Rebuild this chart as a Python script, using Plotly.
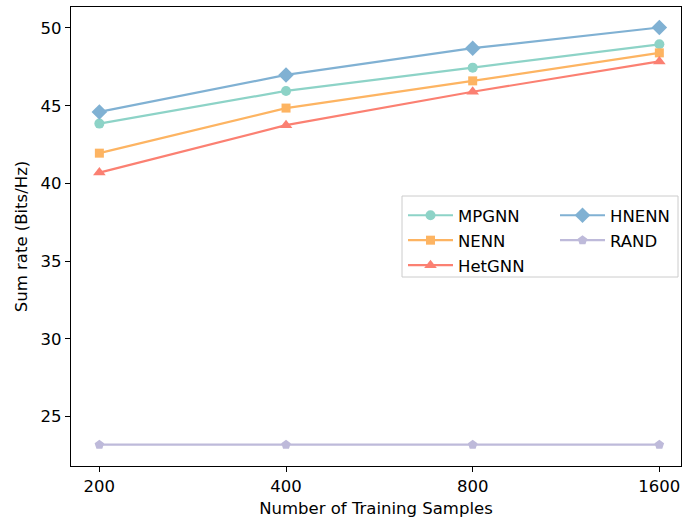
import plotly.graph_objects as go

samples = ["200", "400", "800", "1600"]
mpgnn = [43.85, 45.95, 47.45, 48.95]
nenn = [41.95, 44.85, 46.6, 48.4]
hetgnn = [40.7, 43.75, 45.9, 47.85]
hnenn = [44.6, 46.98, 48.7, 50.03]
rand = [23.2, 23.2, 23.2, 23.2]

series = [
    ("MPGNN", mpgnn, "#8dd3c7", "circle", 10, 1, "legend"),
    ("NENN", nenn, "#fdb462", "square", 9, 2, "legend"),
    ("HetGNN", hetgnn, "#fb8072", "triangle-up", 11, 3, "legend"),
    ("HNENN", hnenn, "#80b1d3", "diamond", 12, 4, "legend2"),
    ("RAND", rand, "#bebada", "pentagon", 10, 5, "legend2"),
]

fig = go.Figure()
for name, vals, color, sym, size, rank, leg in series:
    fig.add_trace(go.Scatter(
        x=samples, y=vals, name=name, mode="lines+markers",
        line=dict(color=color, width=2.2),
        marker=dict(symbol=sym, size=size, color=color, line=dict(width=0)),
        legendrank=rank, legend=leg, legendgroup=name,
    ))

W, H = 683, 519
ml, mr, mt, mb = 71, 2, 7, 53
pw, ph = W - ml - mr, H - mt - mb

def px_x(p):
    return (p - ml) / pw

def px_y(p):
    return 1 - (p - mt) / ph

font = dict(family="DejaVu Sans", size=16.5, color="black")
legend_common = dict(
    font=font, bgcolor="rgba(0,0,0,0)", borderwidth=0,
    itemwidth=45, traceorder="grouped", tracegroupgap=0.5,
    xanchor="left", yanchor="top",
)

fig.update_layout(
    width=W, height=H,
    margin=dict(l=ml, r=mr, t=mt, b=mb),
    paper_bgcolor="white", plot_bgcolor="white",
    font=font,
    showlegend=True,
    legend=dict(x=px_x(403), y=px_y(198), **legend_common),
    legend2=dict(x=px_x(555), y=px_y(198), **legend_common),
    shapes=[dict(
        type="rect", xref="paper", yref="paper",
        x0=px_x(402), x1=px_x(678), y0=px_y(277), y1=px_y(196),
        line=dict(color="#cccccc", width=1), fillcolor="rgba(255,255,255,0.8)",
        layer="above",
    )],
    xaxis=dict(
        type="category", range=[-0.152, 3.116],
        showline=True, linecolor="black", linewidth=1.2, mirror=True,
        ticks="outside", ticklen=5, tickwidth=1.2, tickcolor="black",
        showgrid=False, zeroline=False,
        title=dict(text="Number of Training Samples", font=font, standoff=7),
        tickfont=font,
    ),
    yaxis=dict(
        range=[21.83, 51.35],
        tickvals=[25, 30, 35, 40, 45, 50],
        showline=True, linecolor="black", linewidth=1.2, mirror=True,
        ticks="outside", ticklen=5, tickwidth=1.2, tickcolor="black",
        showgrid=False, zeroline=False,
        title=dict(text="Sum rate (Bits/Hz)", font=font, standoff=8),
        tickfont=font,
    ),
)

fig.write_html("out.html")
